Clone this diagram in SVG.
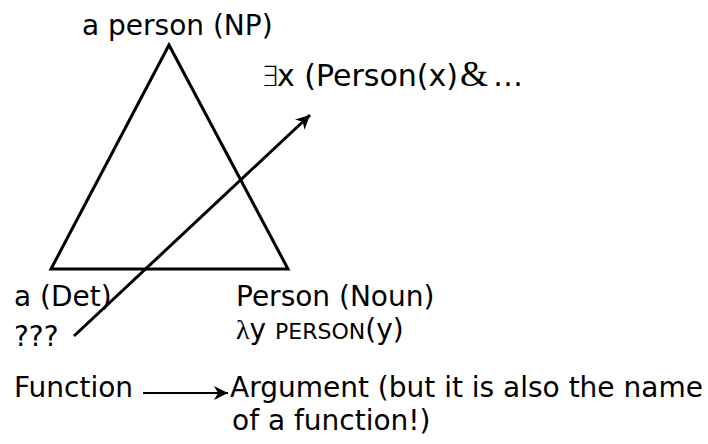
<svg xmlns="http://www.w3.org/2000/svg" width="708" height="444" viewBox="0 0 708 444">
<style>
text{font-family:"DejaVu Sans",Verdana,sans-serif;font-size:28px;fill:#000}
.ser{font-family:"Liberation Serif","DejaVu Serif",serif}
.sc{font-size:22px}
.ln{fill:none;stroke:#000;stroke-width:3}
</style>
<defs>
<marker id="ah" markerUnits="userSpaceOnUse" markerWidth="16" markerHeight="14" refX="14" refY="7" orient="auto">
<path d="M0,0 L14,7 L0,14 L4,7 Z" fill="#000"/>
</marker>
</defs>
<g id="tree">
<polygon class="ln" points="169,45 51,269 288,269" stroke-linejoin="miter"/>
</g>
<g id="labels">
<text y="86"><tspan x="261" style="font-weight:200">∃</tspan><tspan x="277" style="font-size:30px">x (Person(x)</tspan><tspan x="460" class="ser" style="font-size:36px">&amp;</tspan><tspan x="493" style="font-size:30px">…</tspan></text>
<text x="82" y="35">a person (NP)</text>
<text x="14" y="306">a (Det)</text>
<text x="14" y="346">???</text>
<text x="236" y="306">Person (Noun)</text>
<text x="236" y="339"><tspan class="ser">λ</tspan>y <tspan class="sc">PERSON</tspan>(y)</text>
<text x="14" y="397">Function</text>
<text x="230" y="397">Argument (but it is also the name</text>
<text x="232" y="430">of a function!)</text>
</g>
<g id="connectors">
<line class="ln" x1="74" y1="336" x2="310" y2="115" marker-end="url(#ah)"/>
<line x1="143" y1="393" x2="228" y2="393" stroke="#000" stroke-width="2" marker-end="url(#ah)"/>
</g>
</svg>
